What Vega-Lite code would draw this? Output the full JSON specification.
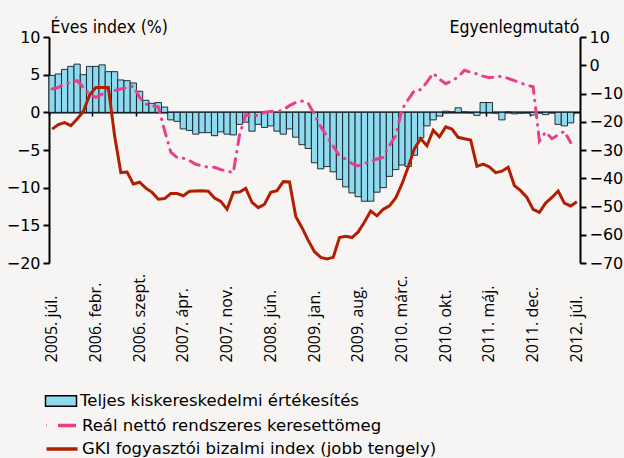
{
  "$schema": "https://vega.github.io/schema/vega-lite/v6.json",
  "width": 531,
  "height": 226,
  "autosize": {"type": "none"},
  "padding": {"left": 49, "top": 37, "right": 44, "bottom": 195},
  "background": "#f6f5f3",
  "config": {
    "view": {"stroke": null},
    "font": "DejaVu Sans",
    "axis": {"labelFont": "DejaVu Sans", "titleFont": "DejaVu Sans Condensed", "labelColor": "#000000", "titleColor": "#000000", "grid": false},
    "legend": {"orient": "none", "title": null, "labelFont": "DejaVu Sans", "labelFontSize": 16.5, "labelColor": "#000000", "labelOffset": 8, "labelLimit": 0, "symbolSize": 400, "padding": 0, "symbolOpacity": 1}
  },
  "data": {"values": [
    {"m": "2005. júl.", "retail": 4.9, "wage": 3.1, "gki": -22.6},
    {"m": "2005. aug.", "retail": 5.1, "wage": 3.3, "gki": -21.0},
    {"m": "2005. szept.", "retail": 5.7, "wage": 3.8, "gki": -20.3},
    {"m": "2005. okt.", "retail": 6.1, "wage": 4.0, "gki": -21.4},
    {"m": "2005. nov.", "retail": 6.4, "wage": 4.2, "gki": -19.0},
    {"m": "2005. dec.", "retail": 5.0, "wage": 3.3, "gki": -16.4},
    {"m": "2006. jan.", "retail": 6.1, "wage": 2.4, "gki": -10.5},
    {"m": "2006. febr.", "retail": 6.1, "wage": 2.0, "gki": -7.9},
    {"m": "2006. márc.", "retail": 6.3, "wage": 2.4, "gki": -7.9},
    {"m": "2006. ápr.", "retail": 5.4, "wage": 3.0, "gki": -7.9},
    {"m": "2006. máj.", "retail": 5.4, "wage": 2.9, "gki": -25.0},
    {"m": "2006. jún.", "retail": 4.3, "wage": 3.1, "gki": -38.0},
    {"m": "2006. júl.", "retail": 4.2, "wage": 3.3, "gki": -37.8},
    {"m": "2006. aug.", "retail": 3.9, "wage": 3.5, "gki": -42.0},
    {"m": "2006. szept.", "retail": 2.8, "wage": 2.0, "gki": -41.4},
    {"m": "2006. okt.", "retail": 1.6, "wage": 1.1, "gki": -43.5},
    {"m": "2006. nov.", "retail": 1.2, "wage": 0.9, "gki": -45.0},
    {"m": "2006. dec.", "retail": 1.3, "wage": 0.7, "gki": -47.4},
    {"m": "2007. jan.", "retail": 0.7, "wage": -2.4, "gki": -47.2},
    {"m": "2007. febr.", "retail": -1.0, "wage": -5.3, "gki": -45.4},
    {"m": "2007. márc.", "retail": -1.2, "wage": -6.0, "gki": -45.4},
    {"m": "2007. ápr.", "retail": -2.2, "wage": -6.1, "gki": -46.2},
    {"m": "2007. máj.", "retail": -2.4, "wage": -6.4, "gki": -44.6},
    {"m": "2007. jún.", "retail": -2.9, "wage": -6.9, "gki": -44.5},
    {"m": "2007. júl.", "retail": -2.7, "wage": -7.1, "gki": -44.4},
    {"m": "2007. aug.", "retail": -2.7, "wage": -7.3, "gki": -44.6},
    {"m": "2007. szept.", "retail": -3.1, "wage": -7.3, "gki": -47.0},
    {"m": "2007. okt.", "retail": -2.6, "wage": -7.6, "gki": -48.2},
    {"m": "2007. nov.", "retail": -2.9, "wage": -7.8, "gki": -51.0},
    {"m": "2007. dec.", "retail": -3.0, "wage": -8.0, "gki": -45.0},
    {"m": "2008. jan.", "retail": -1.6, "wage": -3.0, "gki": -44.9},
    {"m": "2008. febr.", "retail": -1.3, "wage": -0.3, "gki": -43.6},
    {"m": "2008. márc.", "retail": -2.5, "wage": -0.5, "gki": -48.5},
    {"m": "2008. ápr.", "retail": -1.6, "wage": -0.4, "gki": -50.4},
    {"m": "2008. máj.", "retail": -2.0, "wage": 0.0, "gki": -49.2},
    {"m": "2008. jún.", "retail": -1.8, "wage": 0.1, "gki": -45.0},
    {"m": "2008. júl.", "retail": -2.5, "wage": 0.1, "gki": -44.4},
    {"m": "2008. aug.", "retail": -2.9, "wage": 0.3, "gki": -41.2},
    {"m": "2008. szept.", "retail": -2.2, "wage": 0.9, "gki": -41.3},
    {"m": "2008. okt.", "retail": -3.3, "wage": 1.3, "gki": -53.5},
    {"m": "2008. nov.", "retail": -4.3, "wage": 1.5, "gki": -57.5},
    {"m": "2008. dec.", "retail": -4.8, "wage": 1.2, "gki": -62.0},
    {"m": "2009. jan.", "retail": -6.7, "wage": -0.3, "gki": -66.0},
    {"m": "2009. febr.", "retail": -7.5, "wage": -1.9, "gki": -68.0},
    {"m": "2009. márc.", "retail": -7.2, "wage": -3.2, "gki": -68.6},
    {"m": "2009. ápr.", "retail": -7.9, "wage": -4.5, "gki": -68.0},
    {"m": "2009. máj.", "retail": -8.9, "wage": -5.8, "gki": -61.0},
    {"m": "2009. jún.", "retail": -9.9, "wage": -6.2, "gki": -60.5},
    {"m": "2009. júl.", "retail": -10.7, "wage": -6.8, "gki": -61.0},
    {"m": "2009. aug.", "retail": -11.2, "wage": -7.1, "gki": -59.0},
    {"m": "2009. szept.", "retail": -11.8, "wage": -6.8, "gki": -55.5},
    {"m": "2009. okt.", "retail": -11.8, "wage": -6.5, "gki": -51.6},
    {"m": "2009. nov.", "retail": -10.6, "wage": -6.2, "gki": -53.3},
    {"m": "2009. dec.", "retail": -10.0, "wage": -6.0, "gki": -51.0},
    {"m": "2010. jan.", "retail": -8.5, "wage": -4.4, "gki": -49.8},
    {"m": "2010. febr.", "retail": -7.6, "wage": -3.1, "gki": -47.0},
    {"m": "2010. márc.", "retail": -7.0, "wage": 0.4, "gki": -42.0},
    {"m": "2010. ápr.", "retail": -7.2, "wage": 1.7, "gki": -36.0},
    {"m": "2010. máj.", "retail": -5.7, "wage": 2.9, "gki": -29.5},
    {"m": "2010. jún.", "retail": -3.4, "wage": 3.0, "gki": -26.0},
    {"m": "2010. júl.", "retail": -1.8, "wage": 4.0, "gki": -28.5},
    {"m": "2010. aug.", "retail": -1.0, "wage": 5.2, "gki": -23.0},
    {"m": "2010. szept.", "retail": -0.5, "wage": 4.4, "gki": -25.3},
    {"m": "2010. okt.", "retail": 0.15, "wage": 3.8, "gki": -21.8},
    {"m": "2010. nov.", "retail": 0.05, "wage": 4.2, "gki": -22.6},
    {"m": "2010. dec.", "retail": 0.6, "wage": 4.7, "gki": -25.5},
    {"m": "2011. jan.", "retail": 0.05, "wage": 5.6, "gki": -26.0},
    {"m": "2011. febr.", "retail": -0.05, "wage": 5.3, "gki": -26.5},
    {"m": "2011. márc.", "retail": -0.4, "wage": 5.1, "gki": -35.8},
    {"m": "2011. ápr.", "retail": 1.3, "wage": 4.8, "gki": -35.0},
    {"m": "2011. máj.", "retail": 1.3, "wage": 4.6, "gki": -36.0},
    {"m": "2011. jún.", "retail": -0.1, "wage": 4.7, "gki": -38.0},
    {"m": "2011. júl.", "retail": -1.0, "wage": 4.8, "gki": -37.5},
    {"m": "2011. aug.", "retail": 0.05, "wage": 4.5, "gki": -36.1},
    {"m": "2011. szept.", "retail": -0.2, "wage": 4.2, "gki": -42.6},
    {"m": "2011. okt.", "retail": -0.1, "wage": 3.9, "gki": -44.4},
    {"m": "2011. nov.", "retail": -0.05, "wage": 3.6, "gki": -46.8},
    {"m": "2011. dec.", "retail": -0.35, "wage": 3.4, "gki": -51.0},
    {"m": "2012. jan.", "retail": -0.05, "wage": -3.8, "gki": -52.1},
    {"m": "2012. febr.", "retail": -0.3, "wage": -2.6, "gki": -48.8},
    {"m": "2012. márc.", "retail": -0.05, "wage": -3.5, "gki": -46.8},
    {"m": "2012. ápr.", "retail": -1.6, "wage": -3.0, "gki": -44.5},
    {"m": "2012. máj.", "retail": -1.8, "wage": -2.5, "gki": -48.8},
    {"m": "2012. jún.", "retail": -1.4, "wage": -4.0, "gki": -49.8},
    {"m": "2012. júl.", "retail": null, "wage": null, "gki": -48.3}
  ]},
  "layer": [
    {
      "layer": [
        {
          "mark": {"type": "bar", "stroke": "#101c22", "strokeWidth": 0.9},
          "encoding": {
            "x": {
              "field": "m", "type": "ordinal", "sort": null,
              "scale": {"paddingInner": 0, "paddingOuter": 0},
              "axis": {
                "orient": "bottom", "title": null, "domain": false, "ticks": false,
                "values": ["2005. júl.", "2006. febr.", "2006. szept.", "2007. ápr.", "2007. nov.", "2008. jún.", "2009. jan.", "2009. aug.", "2010. márc.", "2010. okt.", "2011. máj.", "2011. dec.", "2012. júl."],
                "labelAngle": 270, "labelAlign": "left", "labelBaseline": "middle",
                "labelPadding": 99, "labelFont": "Open Sans", "labelFontSize": 16,
                "labelOverlap": false, "labelBound": false, "labelFlush": false
              }
            },
            "y": {
              "field": "retail", "type": "quantitative",
              "scale": {"domain": [-20, 10], "nice": false, "zero": false},
              "axis": {
                "orient": "left", "values": [-20, -15, -10, -5, 0, 5, 10], "labelOverlap": false,
                "domainColor": "#000000", "domainWidth": 2, "tickColor": "#000000", "tickWidth": 2, "tickSize": 6,
                "labelFontSize": 16, "labelPadding": 3,
                "title": "Éves index (%)", "titleAngle": 0, "titleAlign": "left", "titleBaseline": "alphabetic",
                "titleX": 1, "titleY": -5, "titleFontSize": 17.5, "titleFontWeight": "normal"
              }
            },
            "color": {
              "datum": "Teljes kiskereskedelmi értékesítés",
              "scale": {"range": ["#8fdaee"]},
              "legend": {
                "legendX": 1, "legendY": 353,
                "symbolType": "M-1.55,-0.52H1.55V0.52H-1.55Z",
                "symbolStrokeColor": "#000000", "symbolStrokeWidth": 1.5
              }
            }
          }
        },
        {
          "mark": {"type": "line", "strokeWidth": 3, "strokeDash": [10, 7, 0.5, 7], "strokeCap": "round"},
          "encoding": {
            "x": {
              "field": "m", "type": "ordinal", "sort": null,
              "axis": {
                "orient": "bottom", "title": null, "domain": false, "ticks": false,
                "values": ["2005. júl.", "2006. febr.", "2006. szept.", "2007. ápr.", "2007. nov.", "2008. jún.", "2009. jan.", "2009. aug.", "2010. márc.", "2010. okt.", "2011. máj.", "2011. dec.", "2012. júl."],
                "labelAngle": 270, "labelAlign": "left", "labelBaseline": "middle",
                "labelPadding": 99, "labelFont": "Open Sans", "labelFontSize": 16,
                "labelOverlap": false, "labelBound": false, "labelFlush": false
              }
            },
            "y": {
              "field": "wage", "type": "quantitative",
              "axis": {
                "orient": "left", "values": [-20, -15, -10, -5, 0, 5, 10], "labelOverlap": false,
                "domainColor": "#000000", "domainWidth": 2, "tickColor": "#000000", "tickWidth": 2, "tickSize": 6,
                "labelFontSize": 16, "labelPadding": 3,
                "title": "Éves index (%)", "titleAngle": 0, "titleAlign": "left", "titleBaseline": "alphabetic",
                "titleX": 1, "titleY": -5, "titleFontSize": 17.5, "titleFontWeight": "normal"
              }
            },
            "color": {
              "datum": "Reál nettó rendszeres keresettömeg",
              "scale": {"range": ["#e83e8c"]},
              "legend": {
                "legendX": 1, "legendY": 376.5,
                "symbolType": "M-1.55,0H1.55",
                "symbolDash": [0.5, 11, 18, 40], "symbolStrokeWidth": 3.5
              }
            }
          }
        }
      ],
      "resolve": {"scale": {"color": "independent"}}
    },
    {
      "mark": {"type": "line", "strokeWidth": 3},
      "encoding": {
        "x": {
          "field": "m", "type": "ordinal", "sort": null,
          "axis": {
            "orient": "bottom", "offset": -151, "title": null, "labels": false,
            "domain": true, "domainColor": "#000000", "domainWidth": 2,
            "ticks": true, "tickColor": "#000000", "tickWidth": 1.5, "tickSize": 4, "bandPosition": 0,
            "values": ["2005. júl.", "2006. febr.", "2006. szept.", "2007. ápr.", "2007. nov.", "2008. jún.", "2009. jan.", "2009. aug.", "2010. márc.", "2010. okt.", "2011. máj.", "2011. dec.", "2012. júl."]
          }
        },
        "y": {
          "field": "gki", "type": "quantitative",
          "scale": {"domain": [-70, 10], "nice": false, "zero": false},
          "axis": {
            "orient": "right", "values": [-70, -60, -50, -40, -30, -20, -10, 0, 10], "labelOverlap": false,
            "domainColor": "#000000", "domainWidth": 2, "tickColor": "#000000", "tickWidth": 2, "tickSize": 6,
            "labelFontSize": 16, "labelPadding": 3,
            "title": "Egyenlegmutató", "titleAngle": 0, "titleAlign": "right", "titleBaseline": "alphabetic",
            "titleX": -1, "titleY": -5, "titleFontSize": 17.5, "titleFontWeight": "normal"
          }
        },
        "color": {
          "datum": "GKI fogyasztói bizalmi index (jobb tengely)",
          "scale": {"range": ["#b21f00"]},
          "legend": {
            "legendX": 1, "legendY": 400,
            "symbolType": "M-1.55,0H1.55", "symbolStrokeWidth": 3.5
          }
        }
      }
    }
  ],
  "resolve": {"scale": {"y": "independent", "color": "independent"}, "axis": {"x": "independent"}}
}
